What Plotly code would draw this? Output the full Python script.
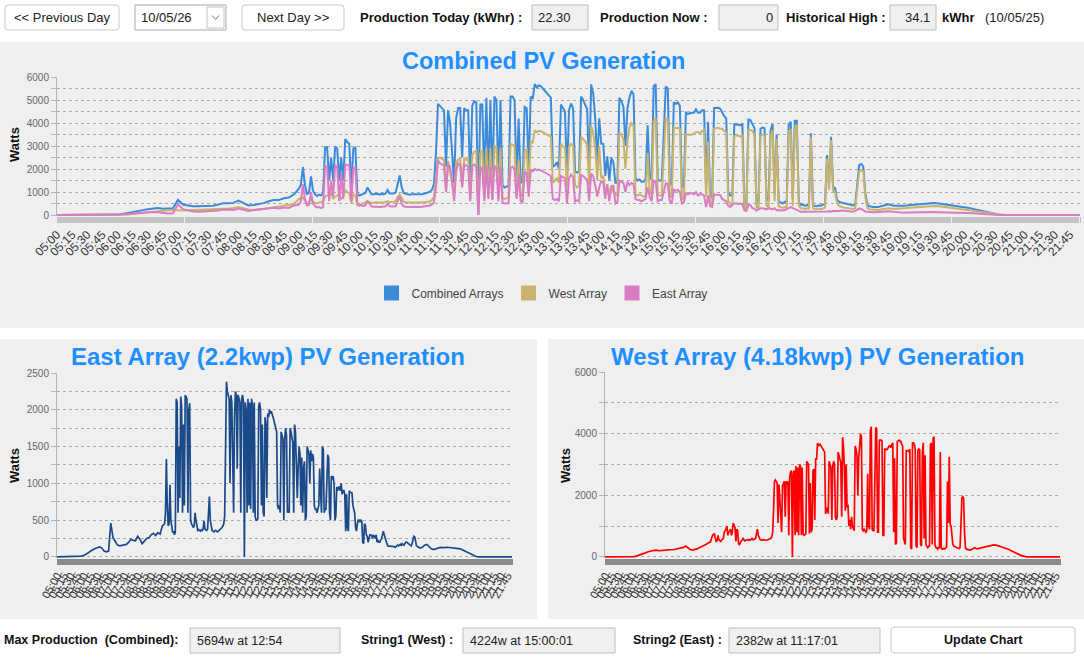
import plotly.graph_objects as go

W_PX, H_PX = 1084, 658
FONT = "Liberation Sans, Arial, sans-serif"
DAY = "2026-05-10"

# ---------------- DATA (Watts) ----------------
# Time grid: 05:00-08:55 every 5 min, 09:00-18:28 every 2 min, 18:30-21:55 every 5 min
def grid(start, count, step):
    h, m = map(int, start.split(":"))
    t0 = h * 60 + m
    return [f"{(t0 + i * step) // 60:02d}:{(t0 + i * step) % 60:02d}" for i in range(count)]

TIMES = grid("05:00", 48, 5) + grid("09:00", 285, 2) + grid("18:30", 42, 5)

EAST_EARLY = [0, 0, 0, 0, 0, 0, 0, 0, 0, 0, 5, 10,
              20, 35, 55, 80, 100, 115, 125, 135, 120, 80, 70, 80,
              460, 260, 210, 160, 150, 160, 165, 170, 200, 240, 225, 220,
              280, 240, 180, 220, 250, 260, 300, 320, 290, 330, 310, 420]
WEST_EARLY = [0, 0, 0, 0, 0, 0, 0, 0, 0, 0, 0, 0,
              0, 10, 25, 45, 70, 100, 130, 160, 190, 200, 210, 220,
              200, 200, 210, 220, 230, 230, 220, 240, 260, 270, 290, 310,
              350, 300, 240, 220, 230, 260, 300, 330, 360, 400, 450, 480]

EAST_MID = [
    450, 600, 1330, 700, 420, 450, 980, 500, 380, 330, 350, 300, 340, 2150, 2100,      # 09:00
    600, 1500, 800, 2180, 2050, 600, 1800, 700, 2200, 2180, 2140, 600, 2000, 2090, 500,  # 09:30
    450, 420, 400, 420, 600, 500, 380, 360, 370, 360, 350, 370, 360, 380, 490,         # 10:00
    380, 370, 360, 380, 600, 820, 500, 380, 360, 350, 340, 350, 360, 350, 340,         # 10:30
    350, 360, 370, 380, 400, 420, 450, 550, 1200, 2382, 2250, 2200, 2150, 1000, 2200,  # 11:00
    2100, 1500, 600, 1900, 2250, 2200, 1200, 2200, 2150, 2100, 600, 2150, 2200, 2100, 0,  # 11:30
    2100, 2000, 600, 2150, 700, 2100, 650, 2150, 2050, 600, 2100, 550, 500, 500, 520,  # 12:00
    2050, 2100, 2000, 700, 1800, 600, 550, 1900, 1800, 800, 1950, 1900, 2000, 1950, 1980,  # 12:30
    1950, 1900, 1850, 1800, 1750, 1700, 700, 650, 700, 600, 1700, 1650, 1600, 500, 1600,  # 13:00
    1750, 1650, 600, 650, 600, 1750, 1700, 1600, 1550, 600, 1800, 1700, 1300, 800, 1200,  # 13:30
    1500, 1400, 700, 1350, 600, 1200, 1300, 500, 550, 1500, 1450, 1400, 1000, 1450, 1300,  # 14:00
    1400, 1350, 700, 650, 650, 600, 650, 700, 1200, 800, 600, 1500, 1460, 600, 650,    # 14:30
    650, 1000, 1390, 1350, 600, 500, 1100, 1050, 1100, 1000, 500, 550, 950, 900, 950,  # 15:00
    950, 900, 1000, 850, 900, 900, 850, 350, 850, 400, 350, 900, 880, 870, 870,        # 15:30
    700, 650, 600, 400, 350, 450, 500, 500, 480, 500, 480, 200, 180, 450, 430,         # 16:00
    300, 280, 200, 250, 300, 300, 290, 250, 300, 280, 250, 300, 200, 220, 200,         # 16:30
    200, 220, 250, 300, 350, 300, 250, 200, 180, 150, 150, 150, 140, 150, 150,         # 17:00
    150, 140, 130, 140, 150, 160, 150, 160, 170, 150, 180, 170, 160, 180, 200,         # 17:30
    200, 190, 180, 170, 160, 150, 180, 250, 280, 270, 200, 150, 140, 130, 120,         # 18:00
]
WEST_MID = [
    700, 720, 760, 600, 500, 520, 700, 560, 520, 500, 540, 560, 600, 800, 850,         # 09:00
    900, 1000, 700, 800, 850, 900, 700, 800, 1100, 1000, 950, 500, 900, 850, 420,      # 09:30
    400, 480, 520, 540, 600, 560, 520, 540, 560, 560, 540, 560, 540, 560, 600,         # 10:00
    560, 560, 580, 600, 800, 900, 700, 580, 560, 550, 540, 560, 550, 540, 550,         # 10:30
    540, 550, 560, 560, 580, 600, 650, 800, 1500, 2450, 2500, 2450, 2400, 1100, 2350,  # 11:00
    1900, 1400, 800, 2300, 2400, 2450, 1300, 2450, 2400, 2450, 700, 2600, 2750, 2800, 0,  # 11:30
    2700, 2800, 700, 2950, 800, 2900, 700, 3000, 2950, 700, 2900, 750, 700, 720, 750,  # 12:00
    3100, 3050, 3000, 750, 2400, 800, 900, 2800, 2850, 1200, 3200, 3150, 3694, 3600, 3650,  # 12:30
    3650, 3600, 3550, 3500, 3450, 3400, 1400, 1500, 1600, 1400, 3100, 3000, 2900, 1200, 2950,  # 13:00
    3100, 3000, 1300, 1200, 1300, 3400, 3300, 3200, 3050, 1300, 3880, 3600, 2900, 1500, 3000,  # 13:30
    1600, 1700, 1000, 1200, 900, 1300, 1000, 900, 850, 3600, 3500, 3300, 2000, 3200, 3800,  # 14:00
    4000, 3900, 900, 850, 900, 850, 800, 850, 2700, 1000, 900, 4100, 4224, 900, 850,   # 14:30
    850, 2500, 4200, 4150, 800, 800, 3800, 3780, 3790, 3750, 700, 700, 3500, 3500, 3480,  # 15:00
    3500, 3550, 3600, 3600, 3550, 3650, 3700, 800, 3200, 400, 450, 3750, 3780, 3790, 3750,  # 15:30
    3750, 3650, 3600, 600, 500, 400, 3450, 3450, 3450, 3400, 3500, 300, 250, 3700, 3700,  # 16:00
    3650, 3500, 350, 300, 3450, 3500, 3480, 400, 350, 3400, 3700, 600, 3300, 400, 350,  # 16:30
    300, 350, 350, 3650, 3700, 400, 3850, 3900, 400, 300, 300, 250, 300, 280, 3400,    # 17:00
    300, 250, 250, 280, 260, 300, 320, 2450, 1100, 3250, 1050, 1000, 500, 400, 350,    # 17:30
    330, 320, 300, 290, 280, 270, 300, 1000, 1900, 1950, 1900, 800, 300, 250, 240,     # 18:00
]

EAST_LATE = [120, 130, 160, 170, 140, 110,
             100, 110, 120, 130, 125, 130, 130, 128, 125, 125, 120, 115,
             110, 95, 80, 60, 40, 25, 15, 5, 0, 0, 0, 0,
             0, 0, 0, 0, 0, 0, 0, 0, 0, 0, 0, 0]
WEST_LATE = [230, 220, 260, 300, 260, 280,
             300, 320, 330, 350, 370, 380, 390, 380, 350, 320, 300, 280,
             250, 210, 170, 140, 100, 70, 40, 10, 0, 0, 0, 0,
             0, 0, 0, 0, 0, 0, 0, 0, 0, 0, 0, 0]

EAST = EAST_EARLY + EAST_MID + EAST_LATE
WEST = WEST_EARLY + WEST_MID + WEST_LATE
COMBINED = [e + w for e, w in zip(EAST, WEST)]

SERIES_NAMES = ["Combined Arrays", "West Array", "East Array"]
TITLES = ["Combined PV Generation", "East Array (2.2kwp) PV Generation", "West Array (4.18kwp) PV Generation"]

C_COMB, C_WEST, C_EAST = "#3b8bd9", "#c9b36c", "#d97cc3"
C_EAST2, C_WEST2 = "#1b4a8a", "#ff0000"

# ---------------- FIGURE ----------------
def px(x): return x / W_PX
def py(y): return 1 - y / H_PX

X = [f"{DAY} {t}" for t in TIMES]
fig = go.Figure()

fig.add_trace(go.Scatter(x=X, y=COMBINED, mode="lines", line=dict(color=C_COMB, width=2),
                         showlegend=False, xaxis="x", yaxis="y"))
fig.add_trace(go.Scatter(x=X, y=WEST, mode="lines", line=dict(color=C_WEST, width=2),
                         showlegend=False, xaxis="x", yaxis="y"))
fig.add_trace(go.Scatter(x=X, y=EAST, mode="lines", line=dict(color=C_EAST, width=2),
                         showlegend=False, xaxis="x", yaxis="y"))
for nm, col in zip(SERIES_NAMES, [C_COMB, C_WEST, C_EAST]):
    fig.add_trace(go.Scatter(x=[None], y=[None], mode="markers", name=nm,
                             marker=dict(symbol="square", size=15, color=col),
                             xaxis="x", yaxis="y"))
fig.add_trace(go.Scatter(x=X, y=EAST, mode="lines", line=dict(color=C_EAST2, width=1.7),
                         showlegend=False, xaxis="x2", yaxis="y2"))
fig.add_trace(go.Scatter(x=X, y=WEST, mode="lines", line=dict(color=C_WEST2, width=1.7),
                         showlegend=False, xaxis="x3", yaxis="y3"))


def xstyle(dom, anchor, angle, band, fsize):
    return dict(domain=dom, anchor=anchor, type="date", automargin=False,
                range=[f"{DAY} 05:00", f"{DAY} 21:55"],
                tick0=f"{DAY} 05:00", dtick=15 * 60 * 1000, tickformat="%H:%M",
                tickangle=angle, ticks="outside", ticklen=6, tickcolor=band, tickwidth=1,
                minor=dict(dtick=60 * 1000, ticks="outside", ticklen=6, tickcolor=band,
                           tickwidth=1, showgrid=False),
                showgrid=False, showline=False, zeroline=False,
                tickfont=dict(size=fsize, color="#333", family=FONT), fixedrange=True)


def ystyle(dom, anchor, rng, dt, mdt):
    return dict(domain=dom, anchor=anchor, range=rng, tick0=0, dtick=dt, automargin=False,
                ticks="outside", ticklen=5, tickcolor="#b5b5b5",
                showgrid=True, gridcolor="#a9a9a9", griddash="dot", gridwidth=1,
                minor=dict(dtick=mdt, tick0=0, ticks="outside", ticklen=5, tickcolor="#b5b5b5",
                           showgrid=True, gridcolor="#a9a9a9", griddash="dot", gridwidth=1),
                showline=True, linecolor="#b5b5b5", linewidth=1, zeroline=False,
                tickfont=dict(size=10, color="#666", family=FONT), fixedrange=True)


fig.update_layout(
    width=W_PX, height=H_PX, autosize=False,
    margin=dict(l=0, r=0, t=0, b=0, pad=0, autoexpand=False),
    paper_bgcolor="#ffffff", plot_bgcolor="#f2f2f5",
    font=dict(family=FONT, color="#222"),
    xaxis=xstyle([px(57), px(1080)], "y", -45, "#c2c2c2", 12),
    yaxis=ystyle([py(216), py(77)], "x", [-40, 6000], 1000, 500),
    xaxis2=xstyle([px(57), px(512)], "y2", -60, "#8a8a8a", 11),
    yaxis2=ystyle([py(558), py(373)], "x2", [-15, 2500], 500, 250),
    xaxis3=xstyle([px(605), px(1060)], "y3", -60, "#8a8a8a", 11),
    yaxis3=ystyle([py(558), py(372)], "x3", [-36, 6000], 2000, 1000),
    showlegend=True,
    legend=dict(orientation="h", x=0.5, xanchor="center", y=py(293), yanchor="middle",
                bgcolor="rgba(0,0,0,0)", font=dict(size=12, color="#444", family=FONT),
                itemclick=False, itemdoubleclick=False),
    hovermode=False,
)

# ---------------- panels & widgets ----------------
def rect(x0, y0, x1, y1, fill, line=None):
    fig.add_shape(type="rect", xref="paper", yref="paper", x0=px(x0), x1=px(x1), y0=py(y1), y1=py(y0),
                  fillcolor=fill, line=dict(color=line or fill, width=1 if line else 0), layer="below")


def rrect(x0, y0, x1, y1, r, fill, line):
    p = (f"M {px(x0 + r)},{py(y0)} L {px(x1 - r)},{py(y0)} Q {px(x1)},{py(y0)} {px(x1)},{py(y0 + r)} "
         f"L {px(x1)},{py(y1 - r)} Q {px(x1)},{py(y1)} {px(x1 - r)},{py(y1)} L {px(x0 + r)},{py(y1)} "
         f"Q {px(x0)},{py(y1)} {px(x0)},{py(y1 - r)} L {px(x0)},{py(y0 + r)} Q {px(x0)},{py(y0)} {px(x0 + r)},{py(y0)} Z")
    fig.add_shape(type="path", path=p, xref="paper", yref="paper", fillcolor=fill,
                  line=dict(color=line, width=1), layer="below")


def text(x, y, s, size=13, bold=False, anchor="left", color="#111", angle=0):
    fig.add_annotation(x=px(x), y=py(y), xref="paper", yref="paper",
                       text=f"<b>{s}</b>" if bold else s, showarrow=False,
                       xanchor=anchor, yanchor="middle", textangle=angle,
                       font=dict(size=size, color=color, family=FONT))


PANEL = "#efefef"
rect(0, 42, 1084, 328, PANEL)
rect(0, 339, 537, 619, PANEL)
rect(548, 339, 1084, 619, PANEL)

# top bar
rrect(5, 5, 119, 30, 3, "#ffffff", "#c9c9c9")
text(62, 17.5, "&lt;&lt; Previous Day", 13, anchor="center", color="#222")
rect(135, 5, 226, 30, "#ffffff", "#a9a9a9")
text(139, 17.5, "10/05/26", 13, color="#222")
rect(207, 7, 224, 28, "#ffffff", "#c4c4c4")
fig.add_shape(type="path", xref="paper", yref="paper",
              path=f"M {px(212)},{py(15.5)} L {px(215.5)},{py(19.5)} L {px(219)},{py(15.5)}",
              line=dict(color="#777", width=1))
rrect(242, 5, 344, 30, 3, "#ffffff", "#c9c9c9")
text(293, 17.5, "Next Day &gt;&gt;", 13, anchor="center", color="#222")
text(358, 17, "Production Today (kWhr) :", 13, bold=True)
rect(532, 5, 588, 30, "#f0f0f0", "#bdbdbd")
text(536, 17.5, "22.30", 13, color="#222")
text(598, 17, "Production Now :", 13, bold=True)
rect(719, 5, 778, 30, "#f0f0f0", "#bdbdbd")
text(775, 17.5, "0", 13, anchor="right", color="#222")
text(784, 17, "Historical High :", 13, bold=True)
rect(890, 5, 936, 30, "#f0f0f0", "#bdbdbd")
text(932, 17.5, "34.1", 13, anchor="right", color="#222")
text(940, 17, "kWhr", 13, bold=True)
text(983, 17, "(10/05/25)", 13, color="#222")

# bottom bar
text(2, 640, "Max Production&nbsp; (Combined):", 12.5, bold=True)
rect(190, 628, 340, 653, "#f0f0f0", "#bdbdbd")
text(195, 640.5, "5694w at 12:54", 12.5, color="#222")
text(359, 640, "String1 (West) :", 12.5, bold=True)
rect(463, 628, 615, 653, "#f0f0f0", "#bdbdbd")
text(468, 640.5, "4224w at 15:00:01", 12.5, color="#222")
text(631, 640, "String2 (East) :", 12.5, bold=True)
rect(729, 628, 880, 653, "#f0f0f0", "#bdbdbd")
text(734, 640.5, "2382w at 11:17:01", 12.5, color="#222")
rrect(891, 627, 1075, 653, 3, "#ffffff", "#c9c9c9")
text(983, 640, "Update Chart", 12.5, bold=True, anchor="center")

# titles
TITLE_BLUE = "#1f8fff"
text(543, 61, TITLES[0], 23.5, bold=True, anchor="center", color=TITLE_BLUE)
text(268, 357, TITLES[1], 24, bold=True, anchor="center", color=TITLE_BLUE)
text(817, 357, TITLES[2], 24, bold=True, anchor="center", color=TITLE_BLUE)

# axis titles
text(15, 145, "Watts", 13, bold=True, anchor="center", color="#111", angle=-90)
text(14, 466, "Watts", 13, bold=True, anchor="center", color="#111", angle=-90)
text(565, 466, "Watts", 13, bold=True, anchor="center", color="#111", angle=-90)

fig.write_html("out.html", config={"displayModeBar": False})
